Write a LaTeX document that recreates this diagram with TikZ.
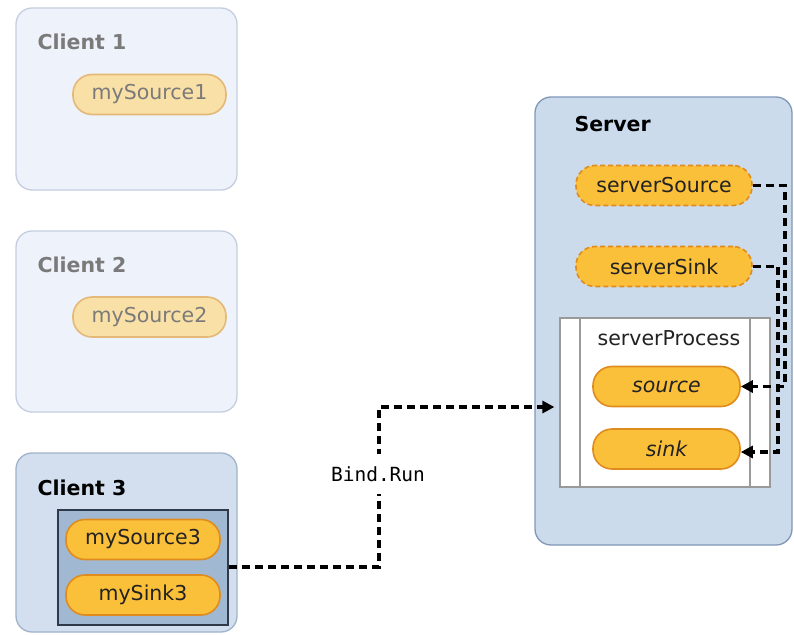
\documentclass[tikz,border=0pt]{standalone}
\usepackage{fontspec}
\setmainfont{DejaVu Sans}
\newfontfamily\monofont{DejaVu Sans Mono}
\usetikzlibrary{arrows.meta}
\definecolor{fadefill}{HTML}{EEF2FA}
\definecolor{fadeline}{HTML}{C5CEDF}
\definecolor{fadepill}{HTML}{F9E0A6}
\definecolor{fadepillline}{HTML}{E4B877}
\definecolor{fadetext}{HTML}{7A7A7A}
\definecolor{clientfill}{HTML}{D3DFEE}
\definecolor{clientline}{HTML}{9FB3CB}
\definecolor{innerfill}{HTML}{A0B8D2}
\definecolor{innerline}{HTML}{2E3A4A}
\definecolor{pillfill}{HTML}{FBC03A}
\definecolor{pillline}{HTML}{E08B1E}
\definecolor{serverfill}{HTML}{CBDBEC}
\definecolor{serverline}{HTML}{8097B8}
\definecolor{procline}{HTML}{9A9A9A}
\definecolor{darktext}{HTML}{222222}
\tikzset{
  panel/.style={draw=#1, line width=1.3pt, rounded corners=16pt},
  fadepanel/.style={panel=fadeline, fill=fadefill},
  title/.style={anchor=base west, font=\fontsize{20.5}{24}\selectfont\bfseries},
  pillbase/.style={rounded corners=19pt, line width=1.6pt, minimum height=40pt, inner sep=0pt,
    font=\fontsize{20.5}{24}\selectfont, text=darktext},
  fadepill/.style={pillbase, draw=fadepillline, fill=fadepill, text=fadetext, minimum width=153pt},
  pill/.style={pillbase, draw=pillline, fill=pillfill},
  dashpill/.style={pill, dashed, dash pattern=on 5pt off 3pt},
  conn/.style={line width=3.2pt, dash pattern=on 8pt off 5pt, black},
  tip/.style={-{Triangle[length=12pt,width=12pt]}}
}
\begin{document}
\begin{tikzpicture}[x=1pt,y=-1pt]
\useasboundingbox (0,0) rectangle (794,634);
\fill[white] (0,0) rectangle (794,634);
% Client 1
\draw[fadepanel] (16,8) rectangle (237,190);
\node[title, text=fadetext] (c1t) at (34,49) {Client 1};
\node[fadepill] (ms1) at (149.5,94.5) {mySource1};
% Client 2
\draw[fadepanel] (16,231) rectangle (237,412);
\node[title, text=fadetext] (c2t) at (34,272) {Client 2};
\node[fadepill] (ms2) at (149.5,317) {mySource2};
% Client 3
\draw[panel=clientline, fill=clientfill] (16,453) rectangle (237,632);
\node[title, text=black] (c3t) at (34,495) {Client 3};
\node[draw=innerline, fill=innerfill, line width=2pt, minimum width=170pt, minimum height=115pt, inner sep=0pt] (inner) at (143,567.5) {};
\node[pill, minimum width=154pt] (ms3) at (143,539.5) {mySource3};
\node[pill, minimum width=154pt] (msk3) at (143,595) {mySink3};
% Server
\draw[panel=serverline, fill=serverfill] (535,97) rectangle (792,545);
\node[title, text=black] (st) at (571,131) {Server};
\node[dashpill, minimum width=176pt] (ss) at (664,185.5) {serverSource};
\node[dashpill, minimum width=176pt] (sk) at (664,266.5) {serverSink};
\node[draw=procline, fill=white, line width=1.2pt, minimum width=210pt, minimum height=169pt, inner sep=0pt] (proc) at (665,402.5) {};
\draw[procline, line width=1.2pt] (580,318) -- (580,487) (750,318) -- (750,487);
\node[anchor=base, font=\fontsize{20.5}{24}\selectfont, text=darktext] (spt) at (669,345) {serverProcess};
\node[pill, minimum width=147pt, font=\fontsize{20.5}{24}\selectfont\itshape] (src) at (666.5,386.5) {source};
\node[pill, minimum width=147pt, font=\fontsize{20.5}{24}\selectfont\itshape] (snk) at (666.5,449) {sink};
% connectors
\coordinate (b1) at (379,567);
\coordinate (b2) at (379,407);
\draw[conn, tip] (inner.east |- 0,567) -- (b1) -- (b2) -- ([xshift=-5pt]proc.west |- b2);
\node[fill=white, font=\monofont\fontsize{19.5}{23}\selectfont, inner xsep=2pt, minimum height=40pt] (bind) at (378,474) {Bind.Run};
\coordinate (r1) at (785,185.5);
\coordinate (r2) at (785,386.5);
\coordinate (r3) at (778,266.5);
\coordinate (r4) at (778,452);
\draw[conn, tip] (ss.east) -- (r1) -- (r2) -- (src.east);
\draw[conn, tip] (sk.east) -- (r3) -- (r4) -- (snk.east |- r4);
\end{tikzpicture}
\end{document}
